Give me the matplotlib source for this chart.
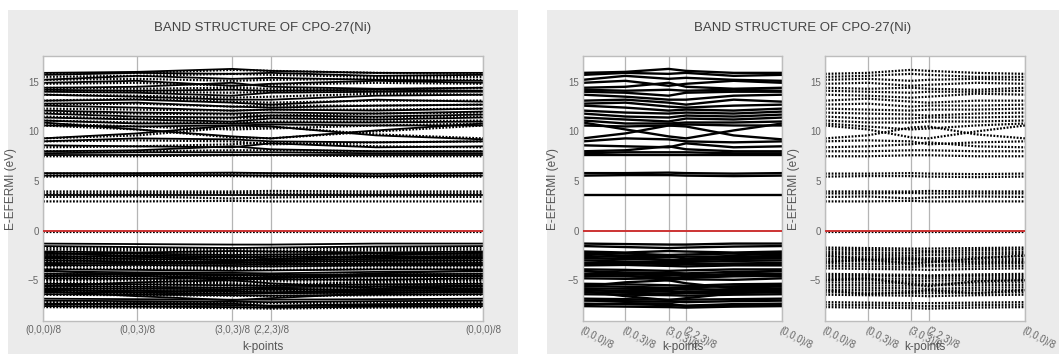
import matplotlib
matplotlib.use("AGG")
import matplotlib.pyplot as plt
from matplotlib.patches import Rectangle

plt.rcParams['font.family'] = ['Liberation Sans', 'DejaVu Sans']

# k-path (positions of the sampled k-points along the path)
k_path = [0.0, 0.375, 0.755, 0.91, 1.33, 1.757]
k_ticks = [0.0, 0.375, 0.755, 0.91, 1.757]
k_labels = ["(0,0,0)/8", "(0,0,3)/8", "(3,0,3)/8", "(2,2,3)/8", "(0,0,0)/8"]
title = "BAND STRUCTURE OF CPO-27(Ni)"

# spin up bands (E - Efermi, eV) read at each k_path point
bands_up = [
    [15.9, 16.0, 16.3, 16.1, 15.9, 15.9],
    [15.7, 15.9, 15.8, 15.9, 15.6, 15.7],
    [15.2, 15.6, 15.3, 15.4, 15.2, 15.1],
    [14.9, 15.1, 14.6, 14.8, 15.1, 14.9],
    [14.4, 14.5, 14.9, 14.5, 14.3, 14.4],
    [14.2, 14.1, 14.2, 14.1, 14.2, 14.1],
    [14.0, 13.9, 13.6, 13.9, 14.0, 14.0],
    [13.7, 13.5, 13.2, 13.2, 13.6, 13.7],
    [13.1, 13.2, 12.9, 12.7, 13.2, 13.0],
    [12.8, 12.9, 12.5, 12.4, 12.6, 12.7],
    [12.6, 12.4, 12.1, 12.2, 12.1, 12.3],
    [12.1, 11.9, 11.8, 11.9, 11.8, 12.0],
    [11.8, 11.5, 11.4, 11.6, 11.5, 11.7],
    [11.4, 11.2, 11.0, 11.3, 11.2, 11.4],
    [11.1, 10.8, 10.8, 10.9, 10.9, 11.0],
    [10.9, 10.2, 9.5, 9.3, 10.1, 10.8],
    [10.6, 10.5, 10.6, 10.7, 10.6, 10.6],
    [9.3, 9.8, 10.6, 10.5, 9.6, 9.2],
    [9.0, 9.3, 9.2, 9.0, 8.9, 9.0],
    [8.6, 8.5, 8.4, 8.8, 8.4, 8.5],
    [8.0, 8.1, 8.5, 8.2, 8.0, 8.0],
    [7.8, 7.9, 7.9, 7.9, 7.8, 7.8],
    [7.6, 7.6, 7.6, 7.6, 7.6, 7.6],
    [5.8, 5.8, 5.85, 5.8, 5.75, 5.8],
    [5.55, 5.6, 5.6, 5.55, 5.5, 5.55],
    [3.55, 3.55, 3.55, 3.55, 3.55, 3.55],
    [-1.30, -1.35, -1.40, -1.40, -1.30, -1.30],
    [-1.55, -1.65, -1.75, -1.70, -1.60, -1.55],
    [-2.10, -2.20, -2.05, -2.10, -2.20, -2.10],
    [-2.35, -2.30, -2.45, -2.40, -2.30, -2.35],
    [-2.55, -2.65, -2.70, -2.60, -2.60, -2.55],
    [-2.80, -2.85, -2.95, -3.00, -2.85, -2.80],
    [-3.00, -3.10, -3.20, -3.15, -3.05, -3.00],
    [-3.25, -3.30, -3.35, -3.40, -3.30, -3.25],
    [-3.50, -3.45, -3.55, -3.60, -3.50, -3.50],
    [-3.90, -3.95, -4.05, -4.00, -3.90, -3.90],
    [-4.10, -4.20, -4.25, -4.30, -4.15, -4.10],
    [-4.35, -4.40, -4.50, -4.45, -4.40, -4.35],
    [-4.55, -4.60, -4.70, -4.75, -4.60, -4.55],
    [-4.80, -4.85, -4.80, -4.90, -4.95, -4.80],
    [-5.35, -5.40, -5.50, -5.55, -5.40, -5.35],
    [-5.55, -5.65, -5.75, -5.70, -5.60, -5.55],
    [-5.80, -5.85, -5.90, -5.95, -5.90, -5.80],
    [-6.00, -6.05, -6.15, -6.20, -6.05, -6.00],
    [-6.20, -6.25, -6.35, -6.30, -6.25, -6.20],
    [-6.40, -6.45, -6.50, -6.55, -6.45, -6.40],
    [-6.85, -6.90, -6.95, -6.95, -6.90, -6.85],
    [-7.05, -7.10, -7.15, -7.20, -7.10, -7.05],
    [-7.35, -7.40, -7.50, -7.55, -7.40, -7.35],
    [-7.60, -7.65, -7.70, -7.75, -7.65, -7.60],
    [-2.2, -2.6, -3.0, -2.9, -2.5, -2.2],
    [-2.7, -2.5, -2.6, -2.8, -2.7, -2.7],
    [-3.4, -3.2, -3.1, -3.3, -3.4, -3.4],
    [-4.0, -4.5, -5.0, -4.8, -4.3, -4.0],
    [-4.6, -4.3, -4.4, -4.6, -4.5, -4.6],
    [-5.6, -5.2, -5.0, -5.3, -5.8, -5.6],
    [-5.9, -6.2, -6.0, -5.8, -6.1, -5.9],
    [-6.1, -6.6, -7.0, -6.8, -6.3, -6.1],
    [-7.45, -7.3, -7.35, -7.6, -7.5, -7.45],
]

# spin down bands
bands_down = [
    [15.8, 15.9, 16.2, 16.1, 15.9, 15.8],
    [15.5, 15.6, 15.8, 15.7, 15.5, 15.5],
    [15.2, 15.3, 15.1, 15.2, 15.3, 15.2],
    [14.8, 14.9, 14.6, 14.7, 14.9, 14.8],
    [14.4, 14.3, 14.4, 14.3, 14.2, 14.4],
    [14.1, 14.0, 13.9, 14.0, 14.0, 14.1],
    [13.7, 13.6, 13.4, 13.5, 13.8, 13.7],
    [13.1, 13.3, 13.0, 12.9, 13.1, 13.1],
    [12.7, 12.8, 12.5, 12.6, 12.6, 12.7],
    [12.3, 12.2, 12.1, 12.2, 12.2, 12.3],
    [11.9, 11.8, 11.7, 11.6, 11.8, 11.9],
    [11.5, 11.3, 11.3, 11.4, 11.4, 11.5],
    [11.1, 10.9, 10.9, 11.0, 11.0, 11.1],
    [10.8, 10.5, 10.2, 10.3, 10.6, 10.8],
    [10.6, 10.2, 9.4, 9.3, 10.0, 10.6],
    [9.3, 9.6, 10.4, 10.5, 9.7, 9.3],
    [9.0, 9.1, 9.0, 8.7, 8.9, 9.0],
    [8.4, 8.5, 8.7, 8.9, 8.5, 8.4],
    [8.0, 8.0, 8.1, 8.1, 8.0, 8.0],
    [7.5, 7.5, 7.6, 7.6, 7.5, 7.5],
    [5.75, 5.75, 5.8, 5.75, 5.7, 5.75],
    [5.45, 5.5, 5.5, 5.45, 5.4, 5.45],
    [3.95, 3.95, 3.95, 4.0, 3.95, 3.95],
    [3.75, 3.75, 3.8, 3.75, 3.75, 3.75],
    [3.4, 3.45, 3.25, 3.35, 3.45, 3.4],
    [2.95, 2.95, 3.0, 2.95, 2.95, 2.95],
    [-0.15, -0.15, -0.15, -0.15, -0.15, -0.15],
    [-1.70, -1.75, -1.80, -1.80, -1.75, -1.70],
    [-1.90, -1.95, -2.00, -2.05, -1.95, -1.90],
    [-2.15, -2.20, -2.25, -2.20, -2.20, -2.15],
    [-2.35, -2.40, -2.50, -2.45, -2.40, -2.35],
    [-2.60, -2.65, -2.70, -2.75, -2.65, -2.60],
    [-2.85, -2.90, -2.95, -2.90, -2.90, -2.85],
    [-3.05, -3.10, -3.20, -3.15, -3.10, -3.05],
    [-3.30, -3.35, -3.40, -3.45, -3.35, -3.30],
    [-3.55, -3.60, -3.65, -3.60, -3.60, -3.55],
    [-3.80, -3.85, -3.90, -3.95, -3.85, -3.80],
    [-4.35, -4.40, -4.45, -4.50, -4.40, -4.35],
    [-4.55, -4.55, -4.60, -4.60, -4.55, -4.55],
    [-4.75, -4.80, -4.85, -4.80, -4.80, -4.75],
    [-4.95, -5.00, -5.10, -5.05, -5.00, -4.95],
    [-5.20, -5.25, -5.30, -5.35, -5.25, -5.20],
    [-5.45, -5.50, -5.55, -5.50, -5.50, -5.45],
    [-5.70, -5.75, -5.80, -5.85, -5.75, -5.70],
    [-5.95, -6.00, -6.05, -6.05, -6.00, -5.95],
    [-6.20, -6.25, -6.30, -6.30, -6.25, -6.20],
    [-6.45, -6.50, -6.55, -6.60, -6.50, -6.45],
    [-7.20, -7.25, -7.30, -7.30, -7.25, -7.20],
    [-7.45, -7.50, -7.55, -7.60, -7.50, -7.45],
    [-7.70, -7.75, -7.80, -7.85, -7.75, -7.70],
    [-2.5, -2.9, -3.3, -3.2, -2.8, -2.5],
    [-3.2, -2.9, -2.8, -3.0, -3.2, -3.2],
    [-5.0, -4.8, -5.4, -5.6, -5.1, -5.0],
    [-6.0, -6.4, -6.2, -6.0, -6.3, -6.0],
]

W, H = 1059.0, 354.0
BG = "#ebebeb"
TXT = "#555555"


def setupAxes(ax, rotated, ylabX):
    ax.set_facecolor("white")
    ax.set_xlim(k_ticks[0], k_ticks[-1])
    ax.set_ylim(-9.1, 17.6)
    ax.set_yticks([-5, 0, 5, 10, 15])
    ax.set_xticks(k_ticks)
    if rotated:
        ax.set_xticklabels(k_labels, rotation=-28, ha="left", va="top",
                           rotation_mode="anchor")
    else:
        ax.set_xticklabels(k_labels)
    ax.tick_params(length=0, labelsize=7, colors="#666666", pad=3)
    for s in ax.spines.values():
        s.set_color("#bdbdbd")
        s.set_linewidth(1.0)
    ax.xaxis.grid(True, color="#b5b5b5", linewidth=0.9)
    ax.yaxis.grid(False)
    ax.set_axisbelow(True)
    ax.axhline(0, color="#cc3333", linewidth=1.4, zorder=5)
    ax.set_ylabel("E-EFERMI (eV)", fontsize=8.5, color=TXT)
    ax.yaxis.set_label_coords(ylabX, 0.5)
    ax.set_xlabel("k-points", fontsize=8.5, color=TXT)
    ax.xaxis.set_label_coords(0.5, -0.075)


def drawUp(ax, lw):
    for b in bands_up:
        ax.plot(k_path, b, color="black", linewidth=lw, solid_capstyle="butt")


def drawDown(ax, lw):
    for b in bands_down:
        ax.plot(k_path, b, color="black", linewidth=lw, linestyle=(0, (0.8, 0.7)))


fig = plt.figure(figsize=(W / 100, H / 100), dpi=100, facecolor="white")
fig.patches.append(Rectangle((8 / W, 0), 510 / W, 344 / H, transform=fig.transFigure,
                             facecolor=BG, edgecolor="none", zorder=-10))
fig.patches.append(Rectangle((547 / W, 0), 512 / W, 344 / H, transform=fig.transFigure,
                             facecolor=BG, edgecolor="none", zorder=-10))

fig.text(263 / W, 1 - 28 / H, title, ha="center", va="center", fontsize=9.5, color="#444444")
fig.text(803 / W, 1 - 28 / H, title, ha="center", va="center", fontsize=9.5, color="#444444")

bottom = 33 / H
height = 265 / H

# left figure: both spins together
ax1 = fig.add_axes([43 / W, bottom, 440 / W, height])
drawUp(ax1, 1.3)
drawDown(ax1, 1.6)
setupAxes(ax1, False, -0.058)

# right figure: spin up / spin down
ax2 = fig.add_axes([583 / W, bottom, 199 / W, height])
drawUp(ax2, 1.7)
setupAxes(ax2, True, -0.123)

ax3 = fig.add_axes([825 / W, bottom, 200 / W, height])
drawDown(ax3, 1.6)
setupAxes(ax3, True, -0.1225)

fig.savefig("out.png", dpi=100, facecolor="white")
